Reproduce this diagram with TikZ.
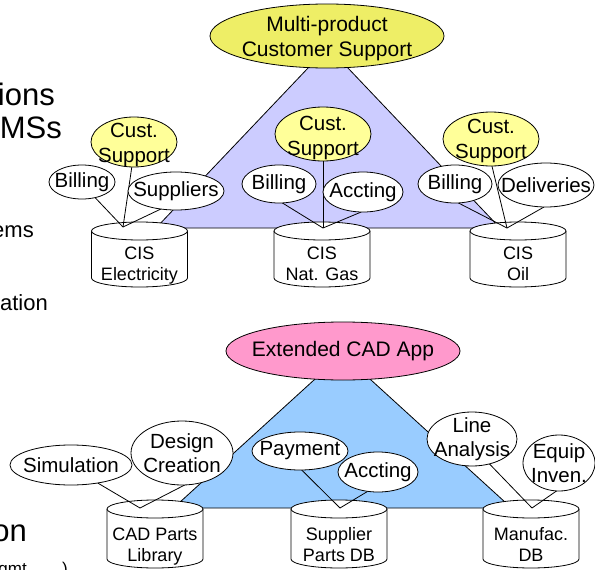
\documentclass[tikz,border=0pt]{standalone}
\usepackage{fontspec}
\setmainfont{Liberation Sans}
\usetikzlibrary{shapes.geometric}

\definecolor{headyellow}{RGB}{238,238,102}
\definecolor{bubyellow}{RGB}{255,255,153}
\definecolor{lavender}{RGB}{204,204,255}
\definecolor{skyblue}{RGB}{153,204,255}
\definecolor{pinkish}{RGB}{255,153,204}

\pgfdeclarelayer{bg}
\pgfdeclarelayer{wires}
\pgfsetlayers{bg,wires,main}

\tikzset{
  outline/.style={draw=black, line width=0.8pt},
  bub/.style={ellipse, outline, inner sep=0pt, outer sep=0pt},
  btxt/.style={font=\fontsize{20.5}{24.5}\selectfont, align=center, inner sep=0pt},
  htxt/.style={font=\fontsize{21}{25}\selectfont, align=center, inner sep=0pt},
  ctxt/.style={font=\fontsize{18}{21.5}\selectfont, align=center, inner sep=0pt},
  bigtxt/.style={font=\fontsize{31}{36}\selectfont, inner sep=0pt, anchor=base east},
  midtxt/.style={font=\fontsize{22}{26}\selectfont, inner sep=0pt, anchor=base east},
  smalltxt/.style={font=\fontsize{17}{20}\selectfont, inner sep=0pt, anchor=base east},
  wire/.style={line width=0.8pt},
}

% ellipse bubble: name, x, y, x radius, y radius, fill, text shift, text
\newcommand\bubble[8]{%
  \node[bub, fill=#6, minimum width=#4*2, minimum height=#5*2] (#1) at (#2,#3) {};
  \node[btxt] (#1t) at (#2,{#3+#7}) {#8};}

% database cylinder: name, centre x, top y, bottom y, text centre y, text
\newcommand\dbcyl[6]{%
  \path[outline, fill=white] (#2-48,#3+9) -- (#2-48,#4-9)
    arc[start angle=180, end angle=0, x radius=48, y radius=9] -- (#2+48,#3+9);
  \draw[outline, fill=white] (#2,#3+9) ellipse[x radius=48, y radius=9];
  \node[ctxt] (#1) at (#2,#5) {#6};}

\begin{document}
\begin{tikzpicture}[x=1pt, y=-1pt]
\useasboundingbox (0,0) rectangle (595,570);

% --- shaded triangles, headline ellipses and databases ---
\begin{pgfonlayer}{bg}
  \fill[white] (0,0) rectangle (595,570);
  \draw[outline, fill=lavender] (328,47) -- (156,228) -- (500,228) -- cycle;
  \node[bub, fill=headyellow, minimum width=234, minimum height=64] (mcs) at (327,36) {};
  \node[htxt] (mcst) at (327,39) {Multi-product\\Customer Support};

  \draw[outline, fill=skyblue] (342.5,354) -- (173.5,508) -- (511.5,508) -- cycle;
  \node[bub, fill=pinkish, minimum width=234, minimum height=58] (cad) at (343,351) {};
  \node[htxt] (cadt) at (343,351.5) {Extended CAD App};

  \dbcyl{cisE}{139.5}{222}{287}{265.5}{CIS\\Electricity}
  \dbcyl{cisG}{322}{222}{287}{263.6}{CIS\\Nat. Gas}
  \dbcyl{cisO}{518}{222}{287}{263.6}{CIS\\Oil}

  \dbcyl{cadDB}{155}{500}{568}{546.5}{CAD Parts\\Library}
  \dbcyl{supDB}{339}{500}{568}{544.6}{Supplier\\Parts DB}
  \dbcyl{manDB}{531}{500}{568}{544.6}{Manufac.\\DB}
\end{pgfonlayer}

% junction points on the database tops
\coordinate (p1) at (123,227);
\coordinate (p2) at (323,228);
\coordinate (p3) at (507,228);
\coordinate (p4) at (140,508);
\coordinate (p5) at (340,508);
\coordinate (p6) at (532,508);

% --- application bubbles ---
\bubble{cs1}{134}{142}{43}{25}{bubyellow}{3}{Cust.\\Support}
\bubble{bill1}{82}{182}{33}{17}{white}{0}{Billing}
\bubble{sup1}{176}{191}{48}{19}{white}{0}{Suppliers}

\bubble{cs2}{323}{134}{48}{27}{bubyellow}{4}{Cust.\\Support}
\bubble{bill2}{279}{184}{37}{19}{white}{0}{Billing}
\bubble{acc2}{363}{192}{40}{20}{white}{0}{Accting}

\bubble{cs3}{491}{139}{48}{27}{bubyellow}{2}{Cust.\\Support}
\bubble{bill3}{455}{184}{37}{19}{white}{0}{Billing}
\bubble{del3}{546}{185}{48}{22}{white}{0}{Deliveries}

\bubble{sim}{71}{465}{61}{20}{white}{0}{Simulation}
\bubble{des}{182}{453}{51}{32}{white}{0}{Design\\Creation}
\bubble{pay}{300}{451}{48}{19}{white}{0}{Payment}
\bubble{acc5}{378}{472}{40}{20}{white}{0}{Accting}
\bubble{lin}{472}{439}{45}{27}{white}{0}{Line\\Analysis}
\bubble{equ}{559}{463}{36}{28}{white}{0}{Equip\\Inven.}

% --- connectors from applications to their databases ---
\begin{pgfonlayer}{wires}
  \draw[wire] (bill1.-50) -- (p1);
  \draw[wire] (cs1.-95) -- (p1);
  \draw[wire] (sup1.-130) -- (p1);

  \draw[wire] (bill2.-80) -- (p2);
  \draw[wire] (cs2.-90) -- (p2);
  \draw[wire] (acc2.-95) -- (p2);

  \draw[wire] (bill3.-80) -- (p3);
  \draw[wire] (cs3.-88) -- (p3);
  \draw[wire] (del3.-95) -- (p3);

  \draw[wire] (sim.-34) -- (p4);
  \draw[wire] (des.-85) -- (p4);

  \draw[wire] (pay.-85) -- (p5);
  \draw[wire] (acc5.-118) -- (p5);

  \draw[wire] (lin.-55) -- (p6);
  \draw[wire] (equ.-95) -- (p6);
\end{pgfonlayer}

% --- slide text running in from the left ---
\node[bigtxt] (s1) at (55,105) {ions};
\node[bigtxt] (s2) at (62,138) {MSs};
\node[midtxt] (s3) at (34,237) {ems};
\node[midtxt] (s4) at (48,310) {ation};
\node[bigtxt] (s5) at (27,541) {on};
\node[smalltxt] (s6) at (27,574) {gmt};
\node[smalltxt] (s7) at (68,574) {)};
\end{tikzpicture}
\end{document}
